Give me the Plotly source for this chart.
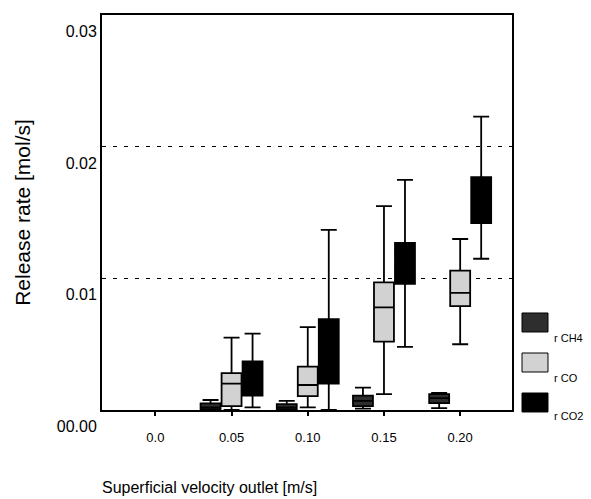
import plotly.graph_objects as go

# Superficial velocity at the outlet [m/s] (category labels)
velocity = ["0.0", "0.05", "0.10", "0.15", "0.20"]
# Velocities with a measured release (no release at 0.0 m/s)
measured = ["0.05", "0.10", "0.15", "0.20"]

# Release-rate statistics [mol/s] per measured velocity: whisker ends, quartiles, median
ch4_low = [0, 0, 0.0001, 0.00015]
ch4_q1 = [0.00005, 0.00005, 0.0003, 0.00053]
ch4_med = [0.0002, 0.0002, 0.0007, 0.0009]
ch4_q3 = [0.0005, 0.00045, 0.0011, 0.0012]
ch4_high = [0.00076, 0.0007, 0.0017, 0.0013]

co_low = [0, 0.0002, 0.0012, 0.0050]
co_q1 = [0.0003, 0.00106, 0.0052, 0.0079]
co_med = [0.0020, 0.0019, 0.0078, 0.0089]
co_q3 = [0.0028, 0.0033, 0.0097, 0.0106]
co_high = [0.0055, 0.0063, 0.0155, 0.0130]

co2_low = [0.0002, 0, 0.0048, 0.0115]
co2_q1 = [0.0011, 0.0020, 0.0096, 0.0142]
co2_med = [0.0024, 0.0045, 0.0112, 0.0160]
co2_q3 = [0.0037, 0.0069, 0.0127, 0.0177]
co2_high = [0.0058, 0.0137, 0.0175, 0.0223]

y_ticks = [0, 0.01, 0.02, 0.03]
y_ticktext = ["00.00", "0.01", "0.02", "0.03"]

series = [
    ("r CH4", ch4_low, ch4_q1, ch4_med, ch4_q3, ch4_high, "#2e2e2e"),
    ("r CO", co_low, co_q1, co_med, co_q3, co_high, "#d2d2d2"),
    ("r CO2", co2_low, co2_q1, co2_med, co2_q3, co2_high, "#000000"),
]

FONT = "Liberation Sans, Arial, sans-serif"

fig = go.Figure()
for name, lo, q1, med, q3, hi, fill in series:
    fig.add_trace(go.Box(
        name=name,
        x=measured,
        lowerfence=lo,
        q1=q1,
        median=med,
        q3=q3,
        upperfence=hi,
        fillcolor=fill,
        line=dict(color="black", width=1.8),
        whiskerwidth=0.8,
        boxpoints=False,
        showlegend=False,
        hoverinfo="skip",
    ))

# Legend drawn as swatches with labels set below-right of each swatch
legend_rows = [(0.1975, 0.2456, 0.182), (0.0962, 0.1443, 0.081), (-0.005, 0.043, -0.0152)]
for (name, *_, fill), (y0, y1, ty) in zip(series, legend_rows):
    fig.add_shape(type="rect", xref="paper", yref="paper",
                  x0=1.0244, x1=1.0878, y0=y0, y1=y1,
                  fillcolor=fill, line=dict(color="black", width=1))
    fig.add_annotation(text=name, xref="paper", yref="paper",
                       x=1.097, y=ty, xanchor="left", yanchor="middle",
                       showarrow=False, font=dict(size=11, color="black", family=FONT))

fig.add_annotation(text="Superficial velocity outlet [m/s]", xref="paper", yref="paper",
                   x=0.261, y=-0.195, xanchor="center", yanchor="middle",
                   showarrow=False, font=dict(size=16, color="black", family=FONT))

fig.update_layout(
    width=591, height=499,
    margin=dict(l=102, r=79, t=15, b=89),
    paper_bgcolor="white", plot_bgcolor="white",
    boxmode="group", boxgap=0.173, boxgroupgap=0.05,
    font=dict(family=FONT, color="black"),
)

fig.update_xaxes(
    type="category", categoryorder="array", categoryarray=velocity,
    range=[-0.7, 4.68],
    showline=True, linecolor="black", linewidth=2, mirror=True,
    ticks="outside", ticklen=4, tickwidth=1.5, tickcolor="black",
    tickfont=dict(size=13, family=FONT), ticklabelstandoff=10,
    showgrid=False, zeroline=False,
)

fig.update_yaxes(
    range=[0, 0.03003],
    tickvals=y_ticks, ticktext=y_ticktext,
    tickfont=dict(size=16, family=FONT), ticklabelshift=16,
    showline=True, linecolor="black", linewidth=2, mirror=True,
    ticks="", showgrid=True, gridcolor="black", gridwidth=1.2,
    griddash="4px,7px", zeroline=False,
    title=dict(text="Release rate [mol/s]", font=dict(size=21, family=FONT), standoff=20),
)

fig.write_html("out.html")
